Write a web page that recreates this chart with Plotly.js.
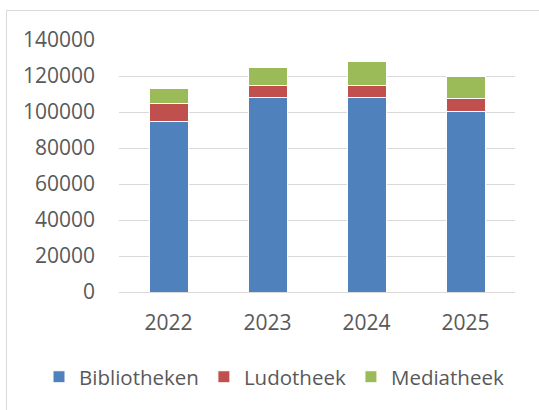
<!DOCTYPE html>
<html>
<head>
<meta charset="utf-8">
<script src="https://cdn.plot.ly/plotly-3.0.1.min.js"></script>
<style>
html,body{margin:0;padding:0;background:#fff;}
#wrap{position:relative;width:539px;height:410px;overflow:hidden;}
#frame{position:absolute;left:6px;top:10px;width:700px;height:600px;border-left:1px solid #D9D9D9;border-top:1px solid #D9D9D9;pointer-events:none;}
#chart{position:absolute;left:0;top:0;width:539px;height:410px;}
</style>
</head>
<body>
<div id="wrap"><div id="chart"></div><div id="frame"></div></div>
<script>
const years = ['2022', '2023', '2024', '2025'];
const bibliotheken = [95000, 108000, 108000, 100500];
const ludotheek = [9500, 7000, 6500, 7000];
const mediatheek = [8500, 9800, 13700, 12200];
const yTicks = [0, 20000, 40000, 60000, 80000, 100000, 120000, 140000];

const fontFam = 'Open Sans, Noto Sans, sans-serif';
function tr(name, vals, color) {
  return {type: 'bar', name: name, x: years, y: vals,
    marker: {color: color, line: {color: '#ffffff', width: 1}}, hoverinfo: 'none'};
}
const data = [
  tr('Bibliotheken', bibliotheken, '#4F81BD'),
  tr('Ludotheek', ludotheek, '#C0504D'),
  tr('Mediatheek', mediatheek, '#9BBB59')
];
const layout = {
  width: 539, height: 410,
  margin: {l: 119, r: 24, t: 40, b: 118, autoexpand: false},
  barmode: 'stack', bargap: 0.606,
  paper_bgcolor: '#fff', plot_bgcolor: '#fff',
  font: {family: fontFam, size: 20, color: '#595959'},
  xaxis: {type: 'category', automargin: false, showgrid: false, showline: true, linecolor: '#D9D9D9', linewidth: 1,
    ticks: '', ticklabelstandoff: 12, tickfont: {size: 21, color: '#595959'}},
  yaxis: {range: [0, 140000], automargin: false, tickvals: yTicks, ticktext: yTicks.map(String),
    showgrid: true, gridcolor: '#D9D9D9', gridwidth: 1, zeroline: false, showline: false,
    ticks: '', ticklabelstandoff: 23, tickfont: {size: 21, color: '#595959'}},
  showlegend: true,
  legend: {orientation: 'h', x: -0.202, xanchor: 'left', y: -0.337, yanchor: 'middle',
    traceorder: 'normal', font: {size: 20.5, color: '#595959'}, itemwidth: 30, tracegroupgap: 0},
};
Plotly.newPlot('chart', data, layout, {staticPlot: true, displayModeBar: false});
</script>
</body>
</html>
